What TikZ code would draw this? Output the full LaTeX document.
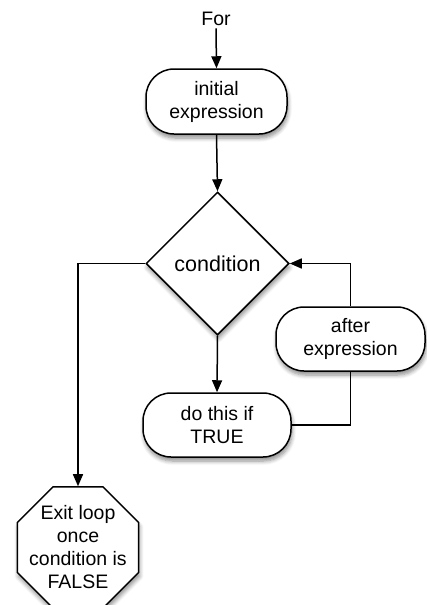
\documentclass[tikz,border=0pt]{standalone}
\usepackage{fontspec}
\setmainfont{Liberation Sans}
\usetikzlibrary{arrows.meta,shapes.geometric,shadows.blur}
\begin{document}
\begin{tikzpicture}[x=1pt,y=-1pt,
  txt/.style={font=\fontsize{19.5}{23}\selectfont, align=center, inner sep=0pt},
  shp/.style={draw=black, line width=1.5pt, fill=white,
    blur shadow={shadow xshift=1pt, shadow yshift=-4pt, shadow blur radius=4pt, shadow blur steps=6, shadow opacity=45}},
  pill/.style={shp, txt, rectangle, rounded corners=28pt},
  arr/.style={line width=1.5pt, -{Triangle[length=12pt,width=10pt]}},
  ln/.style={line width=1.5pt}]
\useasboundingbox (0,0) rectangle (427,605);
\node[txt, anchor=base, inner sep=3pt] (for) at (216,25) {For};
\node[pill, minimum width=141pt, minimum height=65pt] (init) at (216.5,101.5) {initial\\expression};
\node[shp, diamond, minimum width=143pt, minimum height=143pt, inner sep=0pt,
  font=\fontsize{21.5}{25}\selectfont] (cond) at (217.5,263.5) {condition};
\node[pill, minimum width=148pt, minimum height=64pt] (doit) at (217,425) {do this if\\TRUE};
\node[pill, minimum width=149pt, minimum height=64pt] (after) at (350.5,339) {after\\expression};
\node[shp, regular polygon, regular polygon sides=8, minimum size=131pt, inner sep=0pt,
  label={[txt]center:Exit loop\\once\\condition is\\FALSE}] (exit) at (78,547.5) {};
\draw[arr] (for.south) -- (init.north);
\draw[arr] (init.south) -- (cond.north);
\draw[arr] (cond.south) -- (doit.north);
\draw[arr] (cond.west) -| (exit.north);
\draw[ln] (doit.east) -| (after.south);
\draw[arr] (after.north) |- (cond.east);
\end{tikzpicture}
\end{document}
